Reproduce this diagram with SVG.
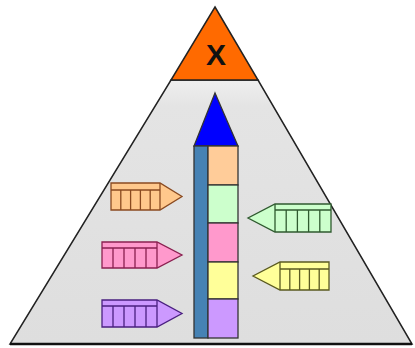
<svg xmlns="http://www.w3.org/2000/svg" width="415" height="348" viewBox="0 0 415 348">
<defs>
<linearGradient id="bg" x1="0" y1="0" x2="0" y2="1">
<stop offset="0" stop-color="#efefef"/>
<stop offset="0.1" stop-color="#e4e4e4"/>
<stop offset="1" stop-color="#dedede"/>
</linearGradient>
</defs>
<style>
.edge{stroke:#222;stroke-width:1.5;stroke-linejoin:miter}
.cell{stroke:#333;stroke-width:1.3}
.ar{stroke-width:1.3;stroke-linejoin:miter}
.ln{fill:none;stroke-width:1.3}
.o{fill:#ffc88c;stroke:#8a4a20}
.p{fill:#ff99cc;stroke:#8a2050}
.v{fill:#cc99ff;stroke:#4a2080}
.g{fill:#ccffcc;stroke:#2f5a2f}
.y{fill:#ffff99;stroke:#5a5a20}
</style>
<rect width="415" height="348" fill="#ffffff"/>
<g id="pyramid">
<polygon class="edge" points="171,80 258,80 412,344 10,344" fill="url(#bg)"/>
<line x1="10" y1="344" x2="412" y2="344" stroke="#111" stroke-width="2.5"/>
</g>
<g id="top-x">
<polygon class="edge" points="215,7 258,80 171,80" fill="#ff6a00"/>
<text x="216" y="65" font-family="Liberation Sans, Arial, sans-serif" font-weight="bold" font-size="30" text-anchor="middle" fill="#111">X</text>
</g>
<g id="stack">
<polygon class="cell" points="215,93 238,146 194,146" fill="#0000ff"/>
<rect class="cell" x="194" y="146" width="14" height="192" fill="#4682b4"/>
<rect class="cell" x="208" y="146" width="30" height="39" fill="#ffcc99"/>
<rect class="cell" x="208" y="185" width="30" height="38" fill="#ccffcc"/>
<rect class="cell" x="208" y="223" width="30" height="39" fill="#ff99cc"/>
<rect class="cell" x="208" y="262" width="30" height="37" fill="#ffff99"/>
<rect class="cell" x="208" y="299" width="30" height="39" fill="#cc99ff"/>
</g>
<g id="arrow-orange">
<polygon class="ar o" points="111,183 160,183 182,196.5 160,210 111,210"/>
<path class="ln o" d="M160,183V210M111,190H160M120.8,190V210M130.6,190V210M140.4,190V210M150.2,190V210" fill="none"/>
</g>
<g id="arrow-pink">
<polygon class="ar p" points="102,242 157,242 182,255 157,268 102,268"/>
<path class="ln p" d="M157,242V268M102,248H157M113,248V268M124,248V268M135,248V268M146,248V268" fill="none"/>
</g>
<g id="arrow-purple">
<polygon class="ar v" points="102,300 157,300 182,313.5 157,327 102,327"/>
<path class="ln v" d="M157,300V327M102,306H157M113,306V327M124,306V327M135,306V327M146,306V327" fill="none"/>
</g>
<g id="arrow-green">
<polygon class="ar g" points="331,204 275,204 248,218 275,232 331,232"/>
<path class="ln g" d="M275,204V232M275,210H331M286.2,210V232M297.4,210V232M308.6,210V232M319.8,210V232" fill="none"/>
</g>
<g id="arrow-yellow">
<polygon class="ar y" points="329,262 280,262 253,276 280,290 329,290"/>
<path class="ln y" d="M280,262V290M280,269H329M289.8,269V290M299.6,269V290M309.4,269V290M319.2,269V290" fill="none"/>
</g>
</svg>
